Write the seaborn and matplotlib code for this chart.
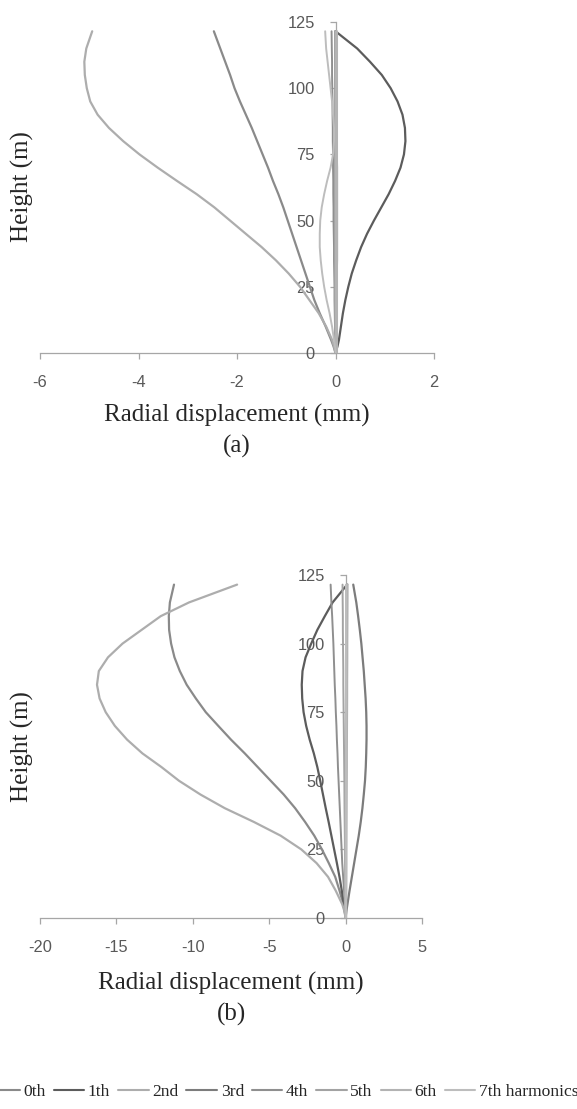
import numpy as np
import pandas as pd
import matplotlib
matplotlib.use("Agg")
import matplotlib.pyplot as plt
from matplotlib.lines import Line2D
import seaborn as sns

# ---------------- data ----------------
harmonics = ["0th", "1th", "2nd", "3rd", "4th", "5th", "6th", "7th harmonics"]
heights = [0, 2.5, 5, 10, 15, 20, 25, 30, 35, 40, 45, 50, 55, 60, 65, 70, 75, 80, 85, 90, 95, 100, 105, 110, 115, 121.5]

# (a) radial displacement (mm)
a_0th = [0, -0.04, -0.09, -0.20, -0.32, -0.43, -0.52, -0.61, -0.70, -0.79, -0.88, -0.97, -1.06, -1.16, -1.27, -1.37,
         -1.48, -1.59, -1.70, -1.82, -1.94, -2.05, -2.14, -2.24, -2.34, -2.47]
a_1th = [0, 0.04, 0.07, 0.11, 0.15, 0.20, 0.26, 0.33, 0.42, 0.52, 0.64, 0.78, 0.93, 1.08, 1.21, 1.32,
         1.39, 1.42, 1.41, 1.36, 1.26, 1.12, 0.94, 0.70, 0.44, 0.0]
a_2nd = [0, -0.03, -0.07, -0.19, -0.34, -0.53, -0.72, -0.95, -1.21, -1.50, -1.82, -2.14, -2.46, -2.82, -3.22, -3.61,
         -3.98, -4.31, -4.60, -4.83, -4.98, -5.05, -5.09, -5.10, -5.06, -4.94]
a_3rd = [0, 0.0, 0.005, 0.01, 0.015, 0.02, 0.02, 0.025, 0.03, 0.03, 0.03, 0.03, 0.03, 0.03, 0.03, 0.03,
         0.025, 0.02, 0.02, 0.02, 0.015, 0.01, 0.01, 0.01, 0.005, 0.0]
a_4th = [0, -0.005, -0.01, -0.01, -0.015, -0.02, -0.02, -0.025, -0.03, -0.03, -0.035, -0.04, -0.04, -0.045, -0.045, -0.05,
         -0.05, -0.055, -0.055, -0.06, -0.06, -0.065, -0.07, -0.07, -0.075, -0.08]
a_5th = [0, -0.005, -0.01, -0.01, -0.01, -0.01, -0.01, -0.01, -0.01, -0.01, -0.01, -0.01, -0.01, -0.01, -0.01, -0.01,
         -0.01, -0.01, -0.01, -0.01, -0.01, -0.01, -0.01, -0.01, -0.01, -0.01]
a_6th = [0, 0.0, 0.0, 0.0, 0.0, 0.0, 0.0, 0.0, 0.0, 0.0, 0.0, 0.0, 0.0, 0.0, 0.0, 0.0,
         0.0, 0.0, 0.0, 0.0, 0.0, 0.0, 0.0, 0.0, 0.0, 0.0]
a_7th = [0, -0.01, -0.03, -0.07, -0.12, -0.18, -0.23, -0.27, -0.30, -0.32, -0.32, -0.31, -0.28, -0.23, -0.17, -0.10,
         -0.05, -0.03, -0.03, -0.05, -0.07, -0.10, -0.13, -0.16, -0.19, -0.21]

# (b) radial displacement (mm)
b_0th = [0, -0.06, -0.15, -0.40, -0.68, -1.10, -1.55, -2.05, -2.65, -3.30, -4.05, -4.90, -5.75, -6.60, -7.50, -8.33,
         -9.15, -9.80, -10.40, -10.85, -11.20, -11.42, -11.55, -11.57, -11.50, -11.23]
b_1th = [0, -0.05, -0.12, -0.25, -0.40, -0.57, -0.75, -0.93, -1.11, -1.30, -1.48, -1.66, -1.85, -2.08, -2.35, -2.58,
         -2.75, -2.84, -2.87, -2.82, -2.62, -2.25, -1.85, -1.36, -0.85, 0.10]
b_2nd = [0, -0.08, -0.22, -0.65, -1.15, -1.90, -2.90, -4.25, -6.00, -7.90, -9.50, -10.90, -12.05, -13.30, -14.30, -15.10,
         -15.70, -16.10, -16.27, -16.15, -15.55, -14.60, -13.35, -12.10, -10.25, -7.10]
b_3rd = [0, 0.05, 0.12, 0.26, 0.41, 0.56, 0.71, 0.86, 0.99, 1.10, 1.19, 1.27, 1.32, 1.35, 1.37, 1.37,
         1.35, 1.31, 1.25, 1.19, 1.11, 1.03, 0.93, 0.82, 0.70, 0.50]
b_4th = [0, -0.02, -0.05, -0.10, -0.16, -0.22, -0.26, -0.30, -0.34, -0.38, -0.42, -0.46, -0.50, -0.53, -0.57, -0.60,
         -0.64, -0.67, -0.71, -0.74, -0.77, -0.80, -0.84, -0.88, -0.93, -0.98]
b_5th = [0, -0.005, -0.01, -0.02, -0.03, -0.04, -0.045, -0.05, -0.06, -0.07, -0.075, -0.08, -0.09, -0.10, -0.11, -0.12,
         -0.13, -0.14, -0.15, -0.15, -0.16, -0.17, -0.18, -0.18, -0.19, -0.20]
b_6th = [0, 0.0, 0.005, 0.01, 0.015, 0.02, 0.02, 0.025, 0.03, 0.035, 0.04, 0.045, 0.05, 0.05, 0.055, 0.06,
         0.065, 0.07, 0.07, 0.075, 0.08, 0.08, 0.085, 0.09, 0.095, 0.10]
b_7th = [0, 0.0, 0.0, 0.0, 0.0, 0.0, 0.0, 0.0, 0.0, 0.0, 0.0, 0.0, 0.0, 0.0, 0.0, 0.0,
         0.0, 0.0, 0.0, 0.0, 0.0, 0.0, 0.0, 0.0, 0.0, 0.0]

a_ticks = [-6, -4, -2, 0, 2]
b_ticks = [-20, -15, -10, -5, 0, 5]
y_ticks = [0, 25, 50, 75, 100, 125]

colors = ["#8a8a8a", "#5c5c5c", "#adadad", "#7c7c7c", "#8f8f8f", "#a3a3a3", "#b3b3b3", "#bdbdbd"]
widths = [1.6, 1.6, 1.6, 1.6, 1.4, 1.4, 2.2, 1.4]

def long_df(series):
    rows = []
    for name, vals in zip(harmonics, series):
        for h, v in zip(heights, vals):
            rows.append({"harmonic": name, "disp": v, "height": h})
    return pd.DataFrame(rows)

df_a = long_df([a_0th, a_1th, a_2nd, a_3rd, a_4th, a_5th, a_6th, a_7th])
df_b = long_df([b_0th, b_1th, b_2nd, b_3rd, b_4th, b_5th, b_6th, b_7th])

sns.set_theme(style="white")
plt.rcParams["font.family"] = ["Liberation Serif", "DejaVu Serif"]

W, H = 577, 1109
fig = plt.figure(figsize=(W / 100, H / 100), dpi=100)

def px_rect(x0, x1, ytop, ybot):
    return [x0 / W, 1 - ybot / H, (x1 - x0) / W, (ybot - ytop) / H]

ax_a = fig.add_axes(px_rect(40, 434, 22, 353))
ax_b = fig.add_axes(px_rect(40, 422, 575, 918))

pal = dict(zip(harmonics, colors))

def draw(ax, df, xlim, xticks):
    for name, lw in zip(harmonics, widths):
        sub = df[df["harmonic"] == name]
        sns.lineplot(data=sub, x="disp", y="height", sort=False, estimator=None,
                     color=pal[name], linewidth=lw, ax=ax, legend=False)
    ax.set_xlim(*xlim)
    ax.set_ylim(0, 125)
    ax.set_xticks(xticks)
    ax.set_xticklabels([str(t) for t in xticks])
    ax.set_yticks(y_ticks)
    ax.set_yticklabels([str(t) for t in y_ticks])
    ax.set_xlabel("")
    ax.set_ylabel("")
    for s in ["top", "right"]:
        ax.spines[s].set_visible(False)
    ax.spines["left"].set_position(("data", 0))
    for s in ["left", "bottom"]:
        ax.spines[s].set_color("#a6a6a6")
        ax.spines[s].set_linewidth(0.9)
        ax.spines[s].set_zorder(0.5)
    ax.tick_params(axis="x", direction="out", length=4, width=0.9, color="#a6a6a6",
                   pad=12, labelsize=11.8, labelcolor="#595959", bottom=True)
    ax.tick_params(axis="y", direction="out", length=4, width=0.9, color="#a6a6a6",
                   pad=11, labelsize=11.8, labelcolor="#595959", left=True)
    for lab in ax.get_xticklabels() + ax.get_yticklabels():
        lab.set_family(["Liberation Sans", "DejaVu Sans"])
    ax.patch.set_alpha(0)

draw(ax_a, df_a, (-6, 2), a_ticks)
draw(ax_b, df_b, (-20, 5), b_ticks)

tc = "#262626"
fs = 18
fig.text(237 / W, 1 - 415 / H, "Radial displacement (mm)", ha="center", va="center", fontsize=fs, color=tc)
fig.text(237 / W, 1 - 446 / H, "(a)", ha="center", va="center", fontsize=fs, color=tc)
fig.text(22 / W, 1 - 187 / H, "Height (m)", ha="center", va="center", rotation=90, fontsize=fs, color=tc)

fig.text(231 / W, 1 - 983 / H, "Radial displacement (mm)", ha="center", va="center", fontsize=fs, color=tc)
fig.text(231 / W, 1 - 1014 / H, "(b)", ha="center", va="center", fontsize=fs, color=tc)
fig.text(22 / W, 1 - 747 / H, "Height (m)", ha="center", va="center", rotation=90, fontsize=fs, color=tc)

handles = [Line2D([0], [0], color=c, lw=1.5) for c in colors]
fig.legend(handles, harmonics, loc="center", bbox_to_anchor=(284 / W, 1 - 1092 / H), ncol=8,
           frameon=False, fontsize=12.6, handlelength=1.75, handletextpad=0.2,
           columnspacing=0.45, borderaxespad=0, borderpad=0)

fig.savefig("out.png", dpi=100)
